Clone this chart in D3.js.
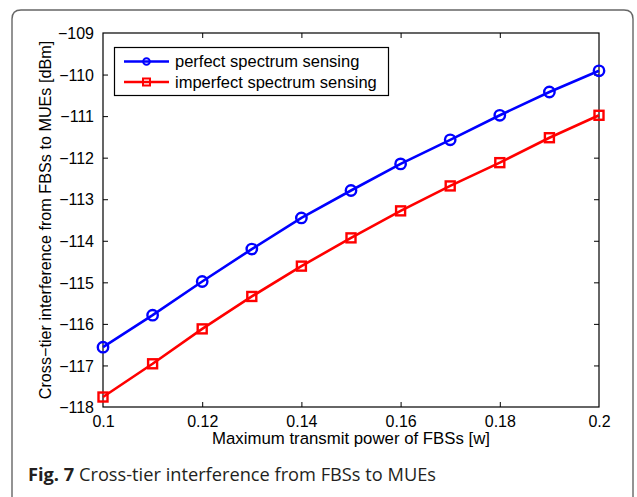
<!DOCTYPE html>
<html>
<head>
<meta charset="utf-8">
<script src="https://cdn.jsdelivr.net/npm/d3@7"></script>
<style>
html,body{margin:0;padding:0;background:#fff;}
svg{display:block;}
</style>
</head>
<body>
<svg id="chart" width="637" height="497"></svg>
<script>
const xValues = [0.10, 0.11, 0.12, 0.13, 0.14, 0.15, 0.16, 0.17, 0.18, 0.19, 0.20];
const perfectSensing = [-116.56, -115.79, -114.98, -114.20, -113.45, -112.79, -112.15, -111.57, -110.98, -110.42, -109.91];
const imperfectSensing = [-117.76, -116.96, -116.12, -115.34, -114.61, -113.93, -113.28, -112.68, -112.12, -111.52, -110.98];
const xTicks = [0.1, 0.12, 0.14, 0.16, 0.18, 0.2];
const yTicks = [-118, -117, -116, -115, -114, -113, -112, -111, -110, -109];
const seriesNames = ["perfect spectrum sensing", "imperfect spectrum sensing"];

const svg = d3.select("#chart");
const L = 103, R = 599, T = 33, B = 407;
const x = d3.scaleLinear().domain([0.1, 0.2]).range([L, R]);
const y = d3.scaleLinear().domain([-118, -109]).range([B, T]);
const fmtY = d => (d < 0 ? "\u2212" : "") + Math.abs(d);
const fmtX = d => String(+d.toFixed(2));

// outer rounded frame (open at bottom)
const fr = 9, fl = 12, ft = 10, frt = 633;
svg.append("path")
  .attr("d", `M${fl},497 L${fl},${ft+fr} Q${fl},${ft} ${fl+fr},${ft} L${frt-fr},${ft} Q${frt},${ft} ${frt},${ft+fr} L${frt},497`)
  .attr("fill", "none").attr("stroke", "#666").attr("stroke-width", 1.4);

const font = "'Liberation Sans', Arial, Helvetica, sans-serif";

// plot box
svg.append("rect").attr("x", L).attr("y", T).attr("width", R - L).attr("height", B - T)
  .attr("fill", "#fff").attr("stroke", "#000").attr("stroke-width", 1.2);

// axes with inward ticks
const gx = svg.append("g").attr("transform", `translate(0,${B})`)
  .call(d3.axisBottom(x).tickValues(xTicks).tickSize(-5).tickPadding(9).tickFormat(fmtX));
const gxt = svg.append("g").attr("transform", `translate(0,${T})`)
  .call(d3.axisTop(x).tickValues(xTicks).tickSize(-5).tickFormat(""));
const gy = svg.append("g").attr("transform", `translate(${L},0)`)
  .call(d3.axisLeft(y).tickValues(yTicks).tickSize(-5).tickPadding(9).tickFormat(fmtY));
const gyr = svg.append("g").attr("transform", `translate(${R},0)`)
  .call(d3.axisRight(y).tickValues(yTicks).tickSize(-5).tickFormat(""));
[gx, gxt, gy, gyr].forEach(g => {
  g.select(".domain").remove();
  g.selectAll(".tick line").attr("stroke", "#000").attr("stroke-width", 1);
  g.selectAll("text").attr("font-family", font).attr("font-size", 16).attr("fill", "#000");
});
gx.selectAll(".tick line").filter(d => d === 0.1 || d === 0.2).remove();
gxt.selectAll(".tick line").filter(d => d === 0.1 || d === 0.2).remove();
gy.selectAll(".tick line").filter(d => d === -118 || d === -109).remove();
gyr.selectAll(".tick line").filter(d => d === -118 || d === -109).remove();
gy.selectAll("text").attr("dy", "0.36em");

// series
const colors = ["#0000ff", "#ff0000"];
const data = [perfectSensing, imperfectSensing];
const line = d3.line().x((d, i) => x(xValues[i])).y(d => y(d));
data.forEach((vals, si) => {
  svg.append("path").datum(vals).attr("d", line)
    .attr("fill", "none").attr("stroke", colors[si]).attr("stroke-width", 2.6);
  if (si === 0) {
    svg.append("g").selectAll("circle").data(vals).join("circle")
      .attr("cx", (d, i) => x(xValues[i])).attr("cy", d => y(d)).attr("r", 5.2)
      .attr("fill", "none").attr("stroke", colors[si]).attr("stroke-width", 2.4);
  } else {
    const s = 9;
    svg.append("g").selectAll("rect").data(vals).join("rect")
      .attr("x", (d, i) => x(xValues[i]) - s / 2).attr("y", d => y(d) - s / 2)
      .attr("width", s).attr("height", s)
      .attr("fill", "none").attr("stroke", colors[si]).attr("stroke-width", 2.4);
  }
});

// legend
const lg = svg.append("g");
lg.append("rect").attr("x", 114.5).attr("y", 47.5).attr("width", 274).attr("height", 48)
  .attr("fill", "#fff").attr("stroke", "#000").attr("stroke-width", 1.2);
const rowsY = [61.5, 82];
seriesNames.forEach((name, i) => {
  const yy = rowsY[i];
  lg.append("line").attr("x1", 124).attr("x2", 169).attr("y1", yy).attr("y2", yy)
    .attr("stroke", colors[i]).attr("stroke-width", 2.6);
  if (i === 0) {
    lg.append("circle").attr("cx", 146.5).attr("cy", yy).attr("r", 3.3)
      .attr("fill", "none").attr("stroke", colors[i]).attr("stroke-width", 2);
  } else {
    lg.append("rect").attr("x", 143).attr("y", yy - 3.5).attr("width", 7).attr("height", 7)
      .attr("fill", "none").attr("stroke", colors[i]).attr("stroke-width", 2);
  }
  lg.append("text").attr("x", 175).attr("y", yy).attr("dy", "0.35em")
    .attr("font-family", font).attr("font-size", 16.5).attr("fill", "#000").text(name);
});

// axis titles
svg.append("text").attr("x", (L + R) / 2).attr("y", 444).attr("text-anchor", "middle")
  .attr("font-family", font).attr("font-size", 16.8).attr("fill", "#000")
  .text("Maximum transmit power of FBSs [w]");
svg.append("text").attr("transform", `translate(51,220) rotate(-90)`).attr("text-anchor", "middle")
  .attr("font-family", font).attr("font-size", 16.2).attr("fill", "#000")
  .text("Cross\u2212tier interference from FBSs to MUEs [dBm]");

// caption
const cap = svg.append("text").attr("x", 28).attr("y", 481)
  .attr("font-family", "'Open Sans', sans-serif").attr("font-size", 18).attr("fill", "#231f20")
  .attr("textLength", 408).attr("lengthAdjust", "spacingAndGlyphs");
cap.append("tspan").attr("font-weight", "bold").text("Fig. 7");
cap.append("tspan").text(" Cross-tier interference from FBSs to MUEs");
</script>
</body>
</html>
